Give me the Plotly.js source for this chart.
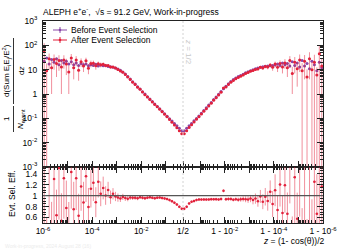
<!DOCTYPE html>
<html><head><meta charset="utf-8">
<script src="https://cdn.plot.ly/plotly-3.0.1.min.js"></script>
<style>html,body{margin:0;padding:0;background:#fff}#c{width:346px;height:251px}</style>
</head><body><div id="c"></div>
<script>
// bin centres: log10(z) on the left half, log10(1-z) on the right half
const binLog = [-5.95,-5.85,-5.75,-5.65,-5.55,-5.45,-5.35,-5.25,-5.15,-5.05,
  -4.95,-4.85,-4.75,-4.65,-4.55,-4.45,-4.35,-4.25,-4.15,-4.05,
  -3.95,-3.85,-3.75,-3.65,-3.55,-3.45,-3.35,-3.25,-3.15,-3.05,
  -2.95,-2.85,-2.75,-2.65,-2.55,-2.45,-2.35,-2.25,-2.15,-2.05,
  -1.95,-1.85,-1.75,-1.65,-1.55,-1.45,-1.35,-1.25,-1.15,-1.05,
  -0.95,-0.85,-0.75,-0.65,-0.55,-0.45,-0.35];

// left half (small z)
const beforeLeft = [22,30,17,26,20,28,16,24,19,22,
  17,21,16,19,15,18,16,17,14.5,16,
  15,16.5,14,15.5,14.5,14.8,13.6,13.2,12.6,11.8,
  10.6,9.4,8.0,6.6,5.3,4.1,3.2,2.55,2.0,1.6,
  1.25,0.99,0.78,0.62,0.49,0.39,0.31,0.245,0.195,0.155,
  0.123,0.097,0.077,0.061,0.049,0.039,0.031];
const afterLeft = [60,9,28,12,26,18,24,13,25,17,
  8,30,12,25,9.5,21,14,23,11.5,18,
  18.5,14.5,17.5,16,16.5,14.8,15,12.8,13,11.6,
  10.2,8.9,7.8,6.3,5.0,3.95,3.07,2.45,1.90,1.55,
  1.2,0.94,0.75,0.6,0.47,0.37,0.298,0.236,0.186,0.147,
  0.115,0.089,0.069,0.053,0.041,0.031,0.0235];
const afterErrLeft = [62,9,18,11,16,13,15,12,14,11,
  7,14,8,11,6,8,6,8,5,5.5,
  5,4.5,4,3.5,3,2.5,2,1.6,1.3,1.0,
  0.8,0.6,0.45,0.35,0.25,0.18,0.13,0.1,0.07,0.05,
  0.04,0.03,0.022,0.017,0.013,0.01,0.008,0.006,0.005,0.004,
  0.003,0.0025,0.002,0.0015,0.0012,0.001,0.0008];

// right half (z close to 1), same bin order of log10(1-z)
const beforeRight = [12,20,9,16,22,11,18,14,24,13,
  19,15,21,14,18,16,19,15,17,15.5,
  14.8,14.5,14.2,13.8,13.3,12.7,11.8,10.8,10.0,9.1,
  8.3,7.4,6.5,5.8,5.2,4.55,3.9,3.25,2.65,2.1,
  1.64,1.27,0.98,0.75,0.59,0.45,0.35,0.27,0.21,0.163,
  0.125,0.099,0.079,0.062,0.049,0.039,0.031];
const afterRight = [14,45,6,20,10,28,5,22,9,25,
  11,20,7,24,12,19,13,18,12.5,17,
  12.5,15.5,12.8,13.5,11.8,12.5,10.6,10.2,9.2,8.6,
  7.7,6.9,6.1,5.4,4.8,4.25,3.6,3.05,2.48,1.96,
  1.78,1.19,0.91,0.7,0.55,0.42,0.325,0.25,0.195,0.151,
  0.116,0.091,0.071,0.055,0.042,0.031,0.0235];
const afterErrRight = [15,48,6.5,21,10.5,24,5.3,18,9.5,17,
  9,13,6,12,7,8,6,6,4.5,4.5,
  3.5,3,2.5,2.2,1.8,1.5,1.2,1.0,0.8,0.6,
  0.5,0.4,0.3,0.25,0.2,0.15,0.12,0.1,0.08,0.06,
  0.045,0.035,0.025,0.02,0.015,0.012,0.009,0.007,0.005,0.004,
  0.003,0.0025,0.002,0.0015,0.0012,0.001,0.0008];

const xDecades = [-6,-5,-4,-3,-2,-1];
const xTickLabelsLeft = ['10<sup>-6</sup>','','10<sup>-4</sup>','','10<sup>-2</sup>',''];
const xTickLabelHalf = '1/2';
const xTickLabelsRight = ['','1 - 10<sup>-2</sup>','','1 - 10<sup>-4</sup>','','1 - 10<sup>-6</sup>'];
const yTopVals = [1e-3,1e-2,1e-1,1,10,100,1000];
const yTopLabels = ['10<sup>-3</sup>','10<sup>-2</sup>','10<sup>-1</sup>','1','10','10<sup>2</sup>','10<sup>3</sup>'];
const yBotVals = [0.6,0.8,1,1.2,1.4];
const yBotLabels = ['0.6','0.8','1','1.2','1.4'];

const PURPLE = '#8a48a8', RED = '#e2213b', RED_T = 'rgba(228,34,60,0.5)', PURPLE_T='rgba(138,72,168,0.6)';
const HALF = Math.log10(0.5);
const uL = binLog.slice();
const uR = binLog.map(w => 2*HALF - w);
const u = uL.concat(uR);
const before = beforeLeft.concat(beforeRight);
const after = afterLeft.concat(afterRight);
const aerr = afterErrLeft.concat(afterErrRight);
const aerrMinus = after.map((v,i) => aerr[i] >= v ? v - 1e-4 : aerr[i]);
const ratio = after.map((v,i) => v / before[i]);
const ratioErr = aerr.map((e,i) => e / before[i]);

// axis tick positions (custom two-sided log axis)
const majorVals = xDecades.concat([HALF], xDecades.slice().reverse().map(d => 2*HALF - d));
const majorText = xTickLabelsLeft.concat([xTickLabelHalf], xTickLabelsRight);
const minorVals = [];
for (const d of xDecades) for (let k=2;k<=9;k++){ const v=k*Math.pow(10,d); if (v<0.5){ minorVals.push(Math.log10(v)); minorVals.push(2*HALF-Math.log10(v)); } }
const yMinor = [];
for (let d=-3; d<3; d++) for (let k=2;k<=9;k++) yMinor.push(k*Math.pow(10,d));

const L=43, R=323, T=21, B=223;
const px = x => (x-L)/(R-L), py = y => (B-y)/(B-T);
const ex = {type:'constant', value:0.05, width:0, thickness:1.2};

const traces = [
  {x:u, y:before, mode:'markers', xaxis:'x', yaxis:'y', showlegend:false,
   marker:{size:3, color:PURPLE}, error_x:Object.assign({color:PURPLE_T}, ex)},
  {x:u, y:after, mode:'markers', xaxis:'x', yaxis:'y', showlegend:false,
   marker:{size:3, color:RED}, error_x:Object.assign({color:RED_T}, ex),
   error_y:{type:'data', array:aerr, arrayminus:aerrMinus, symmetric:false, width:0, thickness:1, color:RED_T}},
  {x:u, y:ratio, mode:'markers', xaxis:'x2', yaxis:'y2', showlegend:false,
   marker:{size:2.5, color:RED}, error_x:Object.assign({color:RED_T}, ex),
   error_y:{type:'data', array:ratioErr, width:0, thickness:1, color:RED_T}}
];

const xCommon = {range:[-6, 2*HALF+6], showgrid:false, zeroline:false, showline:true, linecolor:'#222', linewidth:1,
  tickmode:'array', tickvals:majorVals, ticks:'inside', ticklen:6, tickcolor:'#222',
  minor:{tickvals:minorVals, ticks:'inside', ticklen:3, tickcolor:'#222'}};
const ann = [];
const shp = [];
const rot = (text, x, y, size, extra) => ann.push(Object.assign({text, x:px(x), y:py(y), xref:'paper', yref:'paper', showarrow:false, textangle:-90, font:{size}, xanchor:'center', yanchor:'middle'}, extra||{}));
rot('1', 6, 119, 8);
rot('<i>N</i><sub>event</sub>', 21, 119, 8);
rot('d(Sum E<sub>i</sub>E<sub>j</sub>/E<sup>2</sup>)', 6, 71, 8);
rot('d<i>z</i>', 21, 71, 8);
rot('Evt. Sel. Eff.', 12, 194, 8.5);
shp.push({type:'line', xref:'paper', yref:'paper', x0:px(13.5), x1:px(13.5), y0:py(106), y1:py(132), line:{color:'#000', width:0.8}});
shp.push({type:'line', xref:'paper', yref:'paper', x0:px(13.5), x1:px(13.5), y0:py(38), y1:py(104), line:{color:'#000', width:0.8}});
ann.push({text:'<i>z</i> = 1/2', x:px(188), y:py(37), xref:'paper', yref:'paper', showarrow:false, textangle:90, font:{size:8, color:'#c8c8c8'}});
ann.push({text:'<i>z</i> = (1- cos(θ))/2', x:px(326), y:py(241), xref:'paper', yref:'paper', showarrow:false, xanchor:'right', yanchor:'middle', font:{size:8.5}});
ann.push({text:'Work-in-progress, 2024 August 28 (16)', x:px(3), y:py(246), xref:'paper', yref:'paper', showarrow:false, xanchor:'left', yanchor:'middle', font:{size:5, color:'#ececec'}});
// legend
const leg = [['Before Event Selection', PURPLE, 30], ['After Event Selection', RED, 40]];
for (const [t,c,y] of leg){
  shp.push({type:'line', xref:'paper', yref:'paper', x0:px(53), x1:px(67), y0:py(y), y1:py(y), line:{color:c, width:1}});
  shp.push({type:'line', xref:'paper', yref:'paper', x0:px(60), x1:px(60), y0:py(y-3), y1:py(y+3), line:{color:c, width:1}});
  shp.push({type:'circle', xref:'paper', yref:'paper', x0:px(58.7), x1:px(61.3), y0:py(y-1.3), y1:py(y+1.3), fillcolor:c, line:{color:c, width:0}});
  ann.push({text:t, x:px(69), y:py(y), xref:'paper', yref:'paper', showarrow:false, xanchor:'left', yanchor:'middle', font:{size:8.5}});
}
shp.push({type:'line', xref:'x', yref:'paper', x0:HALF, x1:HALF, y0:0, y1:1, line:{color:'#d2d2d2', width:1, dash:'2px,2px'}});
shp.push({type:'line', xref:'paper', yref:'y2', x0:0, x1:1, y0:1, y1:1, line:{color:'#555', width:1.2}});

const layout = {
  width:346, height:251, margin:{l:L, r:346-R, t:T, b:251-B},
  paper_bgcolor:'#fff', plot_bgcolor:'#fff',
  font:{family:'Liberation Sans, Arial, sans-serif', size:8.5, color:'#000'},
  title:{text:'ALEPH e<sup>+</sup>e<sup>-</sup>,  √s = 91.2 GeV, Work-in-progress', x:L/346, xanchor:'left', y:1-12/251, yanchor:'middle', font:{size:8.5}},
  showlegend:false,
  xaxis:Object.assign({}, xCommon, {anchor:'y', mirror:true, showticklabels:false, ticktext:majorText}),
  xaxis2:Object.assign({}, xCommon, {anchor:'y2', mirror:'ticks', ticktext:majorText, tickfont:{size:8.5}}),
  yaxis:{domain:[56/202,1], type:'log', range:[-3,3], showgrid:false, zeroline:false, showline:true, linecolor:'#222', mirror:'ticks',
    tickmode:'array', tickvals:yTopVals, ticktext:yTopLabels, ticks:'inside', ticklen:6, tickcolor:'#222', ticklabelstandoff:3,
    minor:{tickvals:yMinor, ticks:'inside', ticklen:3, tickcolor:'#222'}},
  yaxis2:{domain:[0,56/202], range:[0.5,1.52], showgrid:false, zeroline:false, showline:true, linecolor:'#222', mirror:'ticks',
    tickmode:'array', tickvals:yBotVals, ticktext:yBotLabels, ticks:'inside', ticklen:6, tickcolor:'#222', ticklabelstandoff:3,
    minor:{tickmode:'linear', tick0:0.5, dtick:0.05, ticks:'inside', ticklen:3, tickcolor:'#222'}},
  annotations:ann, shapes:shp
};
Plotly.newPlot('c', traces, layout, {staticPlot:true, displayModeBar:false});
</script></body></html>
